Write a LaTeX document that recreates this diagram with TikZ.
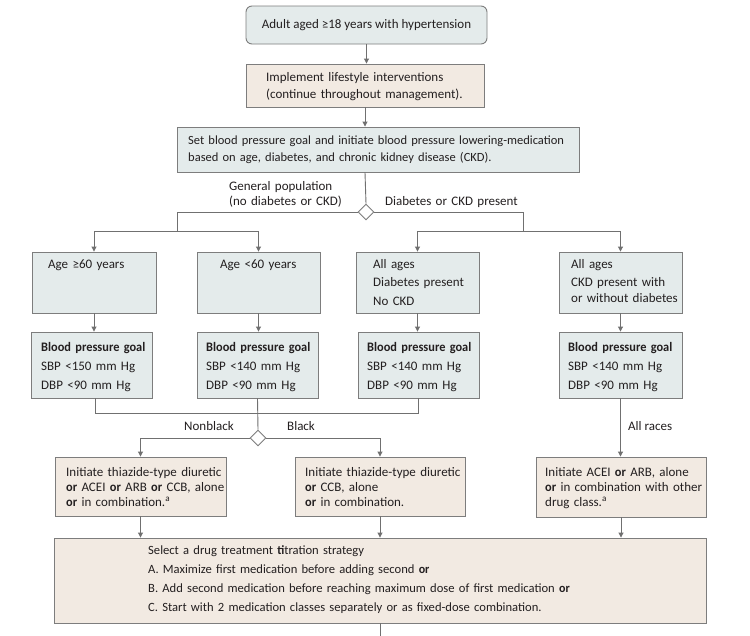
\documentclass[tikz,border=0pt]{standalone}
\usepackage{fontspec}
\setmainfont{Carlito}[BoldFeatures={FakeStretch=0.95}]
\usetikzlibrary{shapes.geometric,arrows.meta}
\definecolor{bluefill}{RGB}{228,235,235}
\definecolor{beigefill}{RGB}{242,234,226}
\definecolor{edgegray}{RGB}{125,125,125}
\definecolor{conngray}{RGB}{112,112,112}
\definecolor{ink}{RGB}{35,31,32}
\begin{document}
\begin{tikzpicture}[x=1pt,y=-1pt,
  boxbase/.style={draw=edgegray, line width=0.9pt, inner sep=0pt},
  bluebox/.style={boxbase, fill=bluefill},
  beigebox/.style={boxbase, fill=beigefill},
  dec/.style={diamond, draw=edgegray, fill=white, line width=0.9pt, inner sep=0pt, minimum width=16pt, minimum height=16pt},
  conn/.style={draw=conngray, line width=0.9pt},
  arr/.style={conn, -{Triangle[length=5pt,width=5pt]}},
  txt/.style={inner sep=0pt, anchor=base west, text=ink, align=left, text width=300pt},
  lbl/.style={inner sep=0pt, text=ink}
]
\fill[white] (0,0) rectangle (750,635);
\useasboundingbox (0,0) rectangle (750,635);

% boxes
\node[bluebox, rounded corners=6pt, minimum width=241pt, minimum height=38pt] (b0) at (366.5,25) {};
\node[beigebox, minimum width=238pt, minimum height=43pt] (b1) at (365,85.5) {};
\node[bluebox, minimum width=402pt, minimum height=45pt] (b2) at (378,149.5) {};
\node[dec] (d1) at (366,212) {};

\node[bluebox, minimum width=124pt, minimum height=61pt] (r1a) at (94,282.5) {};
\node[bluebox, minimum width=123pt, minimum height=61pt] (r1b) at (258.5,282.5) {};
\node[bluebox, minimum width=123pt, minimum height=61pt] (r1c) at (417.5,282.5) {};
\node[bluebox, minimum width=123pt, minimum height=61pt] (r1d) at (620.5,282.5) {};

\node[bluebox, minimum width=121pt, minimum height=66pt] (r2a) at (91.5,365) {};
\node[bluebox, minimum width=121pt, minimum height=66pt] (r2b) at (257.5,365) {};
\node[bluebox, minimum width=121pt, minimum height=66pt] (r2c) at (418.5,365) {};
\node[bluebox, minimum width=123pt, minimum height=66pt] (r2d) at (620.5,365) {};
\node[dec] (d2) at (258,438) {};

\node[beigebox, minimum width=171pt, minimum height=59pt] (r3a) at (140.5,486.5) {};
\node[beigebox, minimum width=170pt, minimum height=59pt] (r3b) at (380,486.5) {};
\node[beigebox, minimum width=170pt, minimum height=60pt] (r3c) at (621,487) {};
\node[beigebox, minimum width=652pt, minimum height=85pt] (r4) at (380,580.5) {};

% junction coordinates
\coordinate (jl) at (177,231);
\coordinate (jr) at (523,231);
\coordinate (ma) at (95,413);
\coordinate (mc) at (418,413);
\coordinate (tail) at (380,640);

% connectors
\draw[arr] (b0.south) -- (b0.south |- b1.north);
\draw[arr] (b1.south) -- (b1.south |- b2.north);
\draw[conn] (b1.south |- b2.south) -- (d1.north);
\draw[conn] (d1.west) -| (jl);
\draw[conn] (d1.east) -| (jr);
\draw[arr] (jl) -| (r1a.north);
\draw[arr] (jl) -| (r1b.north);
\draw[arr] (jr) -| (r1c.north);
\draw[arr] (jr) -| (r1d.north);
\draw[arr] (r1a.south) -- (r1a.south |- r2a.north);
\draw[arr] (r1b.south) -- (r1b.south |- r2b.north);
\draw[arr] (r1c.south) -- (r1c.south |- r2c.north);
\draw[arr] (r1d.south) -- (r1d.south |- r2d.north);
\draw[conn] (ma |- r2a.south) -- (ma) -- (mc) -- (mc |- r2c.south);
\draw[conn] (r2b.south) -- (d2.north);
\draw[arr] (d2.west) -| (r3a.north);
\draw[arr] (d2.east) -| (r3b.north);
\draw[arr] (r2d.south) -- (r2d.south |- r3c.north);
\draw[arr] (r3a.south) -- (r3a.south |- r4.north);
\draw[arr] (r3b.south) -- (r3b.south |- r4.north);
\draw[arr] (r3c.south) -- (r3c.south |- r4.north);
\draw[conn] (r4.south) -- (tail);

% texts
\node[lbl, anchor=base, font=\fontsize{13}{17}\selectfont] (t0) at (366.5,28) {Adult aged ≥18 years with hypertension};
\node[txt, font=\fontsize{13}{17}\selectfont] (t1) at (266,81) {Implement lifestyle interventions\\(continue throughout management).};
\node[txt, text width=400pt, font=\fontsize{12.5}{17}\selectfont] (t2) at (188,144) {Set blood pressure goal and initiate blood pressure lowering-medication\\based on age, diabetes, and chronic kidney disease (CKD).};

\node[txt, font=\fontsize{13}{15}\selectfont] (lg) at (229,190) {General population\\(no diabetes or CKD)};
\node[txt, font=\fontsize{13}{15}\selectfont] (ld) at (385,205) {Diabetes or CKD present};

\node[txt, font=\fontsize{13}{18.5}\selectfont] (t1a) at (48,268) {Age ≥60 years};
\node[txt, font=\fontsize{13}{18.5}\selectfont] (t1b) at (220,268) {Age <60 years};
\node[txt, font=\fontsize{13}{18.5}\selectfont] (t1c) at (373,268) {All ages\\Diabetes present\\No CKD};
\node[txt, font=\fontsize{13}{18.5}\selectfont] (t1d) at (571,268) {All ages\\CKD present with\\[-2.5pt]or without diabetes};

\node[txt, font=\fontsize{13}{19}\selectfont] (t2a) at (41,351) {\textbf{Blood pressure goal}\\SBP <150 mm Hg\\DBP <90 mm Hg};
\node[txt, font=\fontsize{13}{19}\selectfont] (t2b) at (206,351) {\textbf{Blood pressure goal}\\SBP <140 mm Hg\\DBP <90 mm Hg};
\node[txt, font=\fontsize{13}{19}\selectfont] (t2c) at (367,351) {\textbf{Blood pressure goal}\\SBP <140 mm Hg\\DBP <90 mm Hg};
\node[txt, font=\fontsize{13}{19}\selectfont] (t2d) at (568,351) {\textbf{Blood pressure goal}\\SBP <140 mm Hg\\DBP <90 mm Hg};

\node[lbl, anchor=base, font=\fontsize{13}{15}\selectfont] (lnb) at (209,430) {Nonblack};
\node[lbl, anchor=base west, font=\fontsize{13}{15}\selectfont] (lb) at (287,430) {Black};
\node[lbl, anchor=base west, font=\fontsize{13}{15}\selectfont] (lar) at (628,430) {All races};

\node[txt, font=\fontsize{13}{15}\selectfont] (t3a) at (66,476) {Initiate thiazide-type diuretic\\\textbf{or} ACEI \textbf{or} ARB \textbf{or} CCB, alone\\\textbf{or} in combination.\textsuperscript{a}};
\node[txt, font=\fontsize{13}{15}\selectfont] (t3b) at (305,476) {Initiate thiazide-type diuretic\\\textbf{or} CCB, alone\\\textbf{or} in combination.};
\node[txt, font=\fontsize{13}{15}\selectfont] (t3c) at (545,476) {Initiate ACEI \textbf{or} ARB, alone\\\textbf{or} in combination with other\\drug class.\textsuperscript{a}};

\node[txt, text width=560pt, font=\fontsize{12.6}{19.3}\selectfont] (t4) at (148,554) {Select a drug treatment \textbf{ti}tration strategy\\A. Maximize first medication before adding second \textbf{or}\\B. Add second medication before reaching maximum dose of first medication \textbf{or}\\C. Start with 2 medication classes separately or as fixed-dose combination.};
\end{tikzpicture}
\end{document}
